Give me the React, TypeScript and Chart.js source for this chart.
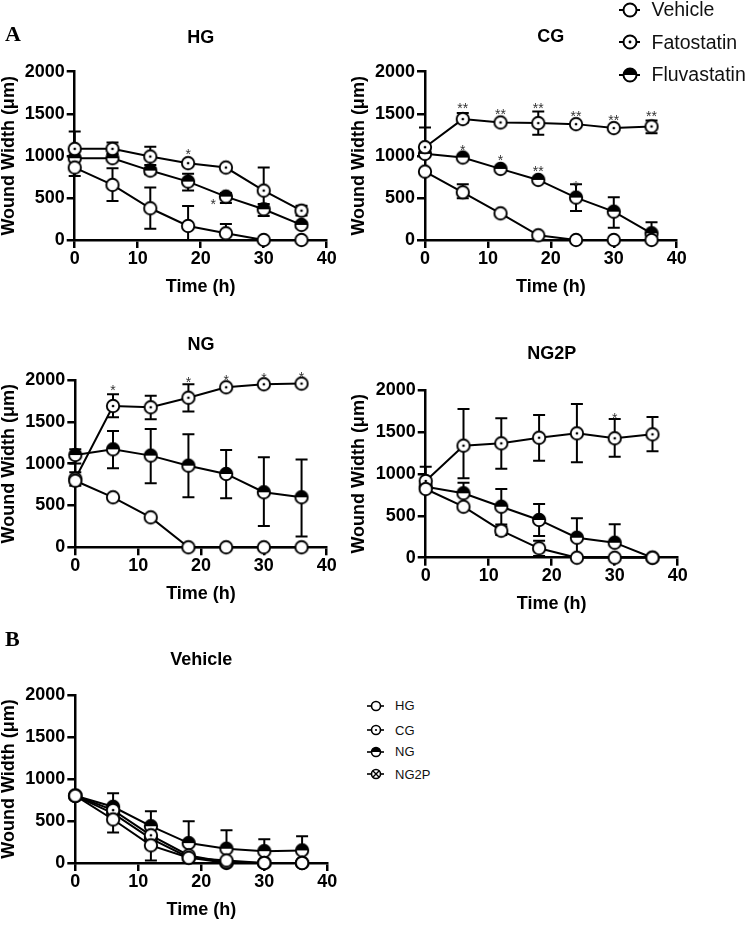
import React, { useEffect, useRef } from 'react';
import { Chart, registerables } from 'chart.js';
Chart.register(...registerables);

// ---------------- data ----------------
const TIME = [0, 6, 12, 18, 24, 30, 36];
const X_TICKS = [0, 10, 20, 30, 40];
const Y_TICKS = [0, 500, 1000, 1500, 2000];

// HG
const HG_VEH = [861, 655, 377, 167, 80, 0, 0];
const HG_VEH_UP = [429, 198, 246, 238, 110, 0, 0];
const HG_VEH_DN = [100, 191, 242, 167, 80, 0, 0];
const HG_FATO = [1083, 1083, 992, 913, 861, 587, 349];
const HG_FATO_UP = [0, 75, 115, 0, 0, 274, 59];
const HG_FATO_DN = [0, 60, 100, 0, 0, 230, 59];
const HG_FLUV = [972, 972, 825, 694, 516, 365, 179];
const HG_FLUV_UP = [0, 0, 30, 92, 44, 64, 30];
const HG_FLUV_DN = [0, 0, 45, 107, 76, 79, 30];
const HG_STAR_X = [18, 22];
const HG_STAR_Y = [1063, 464];
const HG_STAR_T = ['*', '*'];

// CG
const CG_VEH = [813, 567, 317, 56, 0, 0, 0];
const CG_VEH_UP = [0, 96, 0, 0, 0, 0, 0];
const CG_VEH_DN = [0, 71, 0, 0, 0, 0, 0];
const CG_FATO = [1103, 1437, 1397, 1389, 1377, 1330, 1349];
const CG_FATO_UP = [234, 71, 0, 139, 0, 0, 71];
const CG_FATO_DN = [0, 40, 0, 139, 0, 0, 79];
const CG_FLUV = [1024, 980, 845, 714, 504, 337, 80];
const CG_FLUV_UP = [0, 0, 0, 0, 159, 171, 130];
const CG_FLUV_DN = [0, 0, 0, 0, 159, 190, 0];
const CG_STAR_X = [6, 12, 18, 24, 30, 36, 6, 12, 18, 24];
const CG_STAR_Y = [1604, 1533, 1604, 1513, 1458, 1513, 1109, 990, 852, 674];
const CG_STAR_T = ['**', '**', '**', '**', '**', '**', '*', '*', '**', '*'];

// NG
const NG_VEH = [796, 598, 358, 0, 0, 0, 0];
const NG_VEH_UP = [101, 0, 0, 0, 0, 0, 0];
const NG_VEH_DN = [60, 0, 0, 0, 0, 0, 0];
const NG_FATO = [820, 1689, 1674, 1788, 1913, 1949, 1957];
const NG_FATO_UP = [0, 140, 139, 161, 0, 0, 0];
const NG_FATO_DN = [0, 135, 144, 166, 0, 0, 0];
const NG_FLUV = [1103, 1171, 1096, 976, 877, 658, 598];
const NG_FLUV_UP = [70, 219, 318, 375, 286, 418, 452];
const NG_FLUV_DN = [100, 227, 331, 378, 291, 402, 469];
const NG_STAR_X = [6, 18, 24, 30, 36];
const NG_STAR_Y = [1920, 2008, 2040, 2060, 2072];
const NG_STAR_T = ['*', '*', '*', '*', '*'];

// NG2P
const P_VEH = [819, 608, 322, 112, 0, 0, 0];
const P_VEH_UP = [0, 0, 51, 91, 0, 0, 0];
const P_VEH_DN = [0, 0, 51, 91, 0, 0, 0];
const P_FATO = [915, 1336, 1364, 1431, 1483, 1424, 1471];
const P_FATO_UP = [170, 437, 298, 270, 350, 230, 206];
const P_FATO_DN = [0, 389, 303, 274, 346, 220, 202];
const P_FLUV = [847, 768, 608, 450, 238, 179, 0];
const P_FLUV_UP = [0, 126, 211, 190, 232, 219, 0];
const P_FLUV_DN = [0, 0, 211, 190, 232, 0, 0];
const P_STAR_X = [30];
const P_STAR_Y = [1702];
const P_STAR_T = ['*'];

// Vehicle (panel B)
const B_HG = [801, 518, 210, 62, 30, 0, 0];
const B_HG_UP = [0, 0, 0, 0, 0, 0, 0];
const B_HG_DN = [0, 156, 180, 0, 0, 0, 0];
const B_CG = [800, 630, 330, 90, 10, 0, 0];
const B_CG_UP = [0, 0, 0, 0, 0, 0, 0];
const B_CG_DN = [0, 0, 0, 0, 0, 0, 0];
const B_NG = [800, 669, 438, 237, 170, 141, 150];
const B_NG_UP = [0, 161, 179, 261, 220, 141, 168];
const B_NG_DN = [0, 0, 0, 0, 0, 0, 0];
const B_NG2P = [800, 590, 290, 66, 0, 0, 0];
const B_NG2P_UP = [0, 0, 0, 0, 0, 0, 0];
const B_NG2P_DN = [0, 0, 0, 0, 0, 0, 0];

const TREAT_LABELS = ['Vehicle', 'Fatostatin', 'Fluvastatin'];
const GROUP_LABELS = ['HG', 'CG', 'NG', 'NG2P'];

// ---------------- style ----------------
const FONT = "'Liberation Sans', Arial, Helvetica, sans-serif";
const FS = 18;
const LH = FS * 1.2;
const MARK_R = 6.2;
const MARK_LW = 1.9;

type Kind = 'open' | 'dot' | 'half' | 'cross';

function makeMarker(kind: Kind, r: number, lw: number): HTMLCanvasElement {
  const size = 2 * Math.ceil(r + lw / 2 + 1);
  const c = document.createElement('canvas');
  c.width = size;
  c.height = size;
  const g = c.getContext('2d')!;
  const m = size / 2;
  g.beginPath();
  g.arc(m, m, r, 0, Math.PI * 2);
  g.fillStyle = '#fff';
  g.fill();
  g.fillStyle = '#000';
  g.strokeStyle = '#000';
  if (kind === 'half') {
    g.beginPath();
    g.arc(m, m, r, Math.PI, Math.PI * 2);
    g.closePath();
    g.fill();
  }
  if (kind === 'dot') {
    g.beginPath();
    g.arc(m, m, Math.max(1.1, r * 0.22), 0, Math.PI * 2);
    g.fill();
  }
  if (kind === 'cross') {
    const d = r * 0.72;
    g.lineWidth = lw * 0.85;
    g.beginPath();
    g.moveTo(m - d, m - d);
    g.lineTo(m + d, m + d);
    g.moveTo(m + d, m - d);
    g.lineTo(m - d, m + d);
    g.stroke();
  }
  g.lineWidth = lw;
  g.beginPath();
  g.arc(m, m, r, 0, Math.PI * 2);
  g.stroke();
  return c;
}

interface Ser { label: string; mean: number[]; up: number[]; dn: number[]; kind: Kind }
interface Box { L: number; R: number; T: number; B: number; titleY: number; xTitleY: number; yTitleX: number }
interface Panel { title: string; series: Ser[]; starX: number[]; starY: number[]; starT: string[]; box: Box }

const KINDS3: Kind[] = ['open', 'dot', 'half'];
const KINDS4: Kind[] = ['open', 'dot', 'half', 'cross'];

function treat(means: number[][], ups: number[][], dns: number[][]): Ser[] {
  return means.map((m, i) => ({ label: TREAT_LABELS[i], mean: m, up: ups[i], dn: dns[i], kind: KINDS3[i] }));
}

const PANELS: Panel[] = [
  {
    title: 'HG',
    series: treat([HG_VEH, HG_FATO, HG_FLUV], [HG_VEH_UP, HG_FATO_UP, HG_FLUV_UP], [HG_VEH_DN, HG_FATO_DN, HG_FLUV_DN]),
    starX: HG_STAR_X, starY: HG_STAR_Y, starT: HG_STAR_T,
    box: { L: 74.7, R: 326.7, T: 71.7, B: 240, titleY: 38.3, xTitleY: 287, yTitleX: 9.2 },
  },
  {
    title: 'CG',
    series: treat([CG_VEH, CG_FATO, CG_FLUV], [CG_VEH_UP, CG_FATO_UP, CG_FLUV_UP], [CG_VEH_DN, CG_FATO_DN, CG_FLUV_DN]),
    starX: CG_STAR_X, starY: CG_STAR_Y, starT: CG_STAR_T,
    box: { L: 425, R: 676.7, T: 71.7, B: 240, titleY: 37.5, xTitleY: 287, yTitleX: 359 },
  },
  {
    title: 'NG',
    series: treat([NG_VEH, NG_FATO, NG_FLUV], [NG_VEH_UP, NG_FATO_UP, NG_FLUV_UP], [NG_VEH_DN, NG_FATO_DN, NG_FLUV_DN]),
    starX: NG_STAR_X, starY: NG_STAR_Y, starT: NG_STAR_T,
    box: { L: 75.3, R: 326.7, T: 380, B: 547.3, titleY: 345.5, xTitleY: 594, yTitleX: 9.2 },
  },
  {
    title: 'NG2P',
    series: treat([P_VEH, P_FATO, P_FLUV], [P_VEH_UP, P_FATO_UP, P_FLUV_UP], [P_VEH_DN, P_FATO_DN, P_FLUV_DN]),
    starX: P_STAR_X, starY: P_STAR_Y, starT: P_STAR_T,
    box: { L: 425.7, R: 677.7, T: 390, B: 557.7, titleY: 354.5, xTitleY: 604.5, yTitleX: 359.5 },
  },
  {
    title: 'Vehicle',
    series: [B_HG, B_CG, B_NG, B_NG2P].map((m, i) => ({
      label: GROUP_LABELS[i], mean: m,
      up: [B_HG_UP, B_CG_UP, B_NG_UP, B_NG2P_UP][i],
      dn: [B_HG_DN, B_CG_DN, B_NG_DN, B_NG2P_DN][i],
      kind: KINDS4[i],
    })),
    starX: [], starY: [], starT: [],
    box: { L: 75.3, R: 327.3, T: 695, B: 863, titleY: 660, xTitleY: 910, yTitleX: 9.2 },
  },
];

function geom(b: Box) {
  const cx = Math.round(b.L - 85);
  const cy = Math.round(b.T - 62);
  const padL = b.yTitleX - LH / 2 - cx;
  const yW = b.L - cx - padL;
  const cw = Math.ceil(b.R - cx + 22);
  const padR = cx + cw - b.R;
  const scaleBottom = b.xTitleY + LH / 2;
  const ch = Math.ceil(scaleBottom + 4 - cy);
  const padB = cy + ch - scaleBottom;
  const xH = scaleBottom - b.B;
  const tPadTop = b.titleY - cy - LH / 2;
  const tPadBottom = b.T - cy - tPadTop - LH;
  return { cx, cy, cw, ch, padL, padR, padB, yW, xH, tPadTop, tPadBottom };
}

const errPlugin = {
  id: 'errBars',
  beforeDatasetsDraw(chart: any) {
    const { ctx } = chart;
    const xs = chart.scales.x;
    const ys = chart.scales.y;
    ctx.save();
    ctx.strokeStyle = '#000';
    ctx.lineWidth = 2;
    chart.data.datasets.forEach((ds: any) => {
      ds.data.forEach((pt: any, j: number) => {
        const px = xs.getPixelForValue(pt.x);
        const py = ys.getPixelForValue(pt.y);
        const draw = (d: number) => {
          if (!d) return;
          const ey = ys.getPixelForValue(pt.y + d);
          ctx.beginPath();
          ctx.moveTo(px, py);
          ctx.lineTo(px, ey);
          ctx.moveTo(px - 6, ey);
          ctx.lineTo(px + 6, ey);
          ctx.stroke();
        };
        draw(ds.errUp[j]);
        draw(-ds.errDn[j]);
      });
    });
    ctx.restore();
  },
};

function starPlugin(p: Panel) {
  return {
    id: 'stars',
    afterDatasetsDraw(chart: any) {
      const { ctx } = chart;
      const xs = chart.scales.x;
      const ys = chart.scales.y;
      ctx.save();
      ctx.font = `14px ${FONT}`;
      ctx.fillStyle = '#333';
      ctx.textAlign = 'center';
      ctx.textBaseline = 'alphabetic';
      p.starX.forEach((sx, i) => {
        ctx.fillText(p.starT[i], xs.getPixelForValue(sx), ys.getPixelForValue(p.starY[i]) + 8);
      });
      ctx.restore();
    },
  };
}

function axisCommon() {
  return {
    type: 'linear' as const,
    grid: {
      display: true,
      drawOnChartArea: false,
      drawTicks: true,
      tickLength: 8,
      tickWidth: 2.5,
      tickColor: '#000',
      color: '#000',
      lineWidth: 2.5,
    },
    border: { display: true, color: '#000', width: 2.5 },
  };
}

function buildConfig(p: Panel): any {
  const g = geom(p.box);
  const font = { family: FONT, size: FS, weight: 'bold' as const };
  return {
    type: 'line',
    data: {
      datasets: p.series.map((s) => ({
        label: s.label,
        data: TIME.map((t, i) => ({ x: t, y: s.mean[i] })),
        errUp: s.up,
        errDn: s.dn,
        borderColor: '#000',
        borderWidth: 2,
        pointStyle: makeMarker(s.kind, MARK_R, MARK_LW),
        pointRadius: 7,
        fill: false,
        tension: 0,
        clip: false,
      })),
    },
    options: {
      responsive: false,
      animation: false,
      devicePixelRatio: 1,
      events: [],
      layout: { padding: { left: g.padL, right: g.padR, top: 0, bottom: g.padB } },
      plugins: {
        legend: { display: false },
        tooltip: { enabled: false },
        title: {
          display: true,
          text: p.title,
          fullSize: false,
          color: '#000',
          font,
          padding: { top: g.tPadTop, bottom: g.tPadBottom },
        },
      },
      scales: {
        x: {
          ...axisCommon(),
          position: 'bottom',
          min: 0,
          max: 40,
          afterBuildTicks: (s: any) => { s.ticks = X_TICKS.map((v) => ({ value: v })); },
          ticks: { font, color: '#000', padding: 0, maxRotation: 0, autoSkip: false, callback: (v: any) => String(v) },
          title: { display: true, text: 'Time (h)', color: '#000', font, padding: { top: 0, bottom: 0 } },
          afterFit: (s: any) => { s.height = g.xH; },
        },
        y: {
          ...axisCommon(),
          position: 'left',
          min: 0,
          max: 2000,
          afterBuildTicks: (s: any) => { s.ticks = Y_TICKS.map((v) => ({ value: v })); },
          ticks: { font, color: '#000', padding: 2, autoSkip: false, callback: (v: any) => String(v) },
          title: { display: true, text: 'Wound Width (μm)', color: '#000', font, padding: { top: 0, bottom: 0 } },
          afterFit: (s: any) => { s.width = g.yW; },
        },
      },
    },
    plugins: [errPlugin, starPlugin(p)],
  };
}

function PanelChart({ panel }: { panel: Panel }) {
  const ref = useRef<HTMLCanvasElement>(null);
  const g = geom(panel.box);
  useEffect(() => {
    const chart = new Chart(ref.current as HTMLCanvasElement, buildConfig(panel));
    return () => chart.destroy();
  }, []);
  return (
    <canvas
      ref={ref}
      width={g.cw}
      height={g.ch}
      style={{ position: 'absolute', left: g.cx, top: g.cy, width: g.cw, height: g.ch }}
    />
  );
}

function LegendMark({ kind, x, y, r, lw, len }: { kind: Kind; x: number; y: number; r: number; lw: number; len: number }) {
  const ref = useRef<HTMLCanvasElement>(null);
  const w = Math.ceil(len) + 2;
  const h = 2 * Math.ceil(r + lw + 2);
  useEffect(() => {
    const c = ref.current as HTMLCanvasElement;
    const ctx = c.getContext('2d')!;
    ctx.clearRect(0, 0, w, h);
    ctx.strokeStyle = '#000';
    ctx.lineWidth = lw;
    ctx.beginPath();
    ctx.moveTo(1, h / 2);
    ctx.lineTo(w - 1, h / 2);
    ctx.stroke();
    const m = makeMarker(kind, r, lw);
    ctx.drawImage(m, Math.round(w / 2 - m.width / 2), Math.round(h / 2 - m.height / 2));
  }, []);
  return (
    <canvas ref={ref} width={w} height={h}
      style={{ position: 'absolute', left: Math.round(x - w / 2), top: Math.round(y - h / 2), width: w, height: h }} />
  );
}

const TOP_LEGEND_Y = [10, 42.3, 75];
const BOTTOM_LEGEND_Y = [705.7, 730, 751.5, 774.3];

export default function App() {
  const letter = (left: number, top: number): React.CSSProperties => ({
    position: 'absolute', left, top, fontFamily: "'Liberation Serif', 'Times New Roman', serif",
    fontWeight: 'bold', fontSize: 22, lineHeight: '1', color: '#000',
  });
  const legText = (left: number, centerY: number, size: number): React.CSSProperties => ({
    position: 'absolute', left, top: centerY - 0.488 * size, fontFamily: FONT, fontSize: size,
    lineHeight: '1', color: '#111', whiteSpace: 'nowrap',
  });
  return (
    <div style={{ position: 'absolute', left: 0, top: 0, width: 749, height: 929, background: '#fff', overflow: 'hidden' }}>
      {PANELS.map((p) => <PanelChart key={p.title} panel={p} />)}
      <div style={letter(5, 23)}>A</div>
      <div style={letter(5, 628)}>B</div>
      {TREAT_LABELS.map((t, i) => (
        <React.Fragment key={t}>
          <LegendMark kind={KINDS3[i]} x={629.5} y={TOP_LEGEND_Y[i]} r={6.5} lw={2} len={21} />
          <div style={legText(651.5, TOP_LEGEND_Y[i], 19.5)}>{t}</div>
        </React.Fragment>
      ))}
      {GROUP_LABELS.map((t, i) => (
        <React.Fragment key={t}>
          <LegendMark kind={KINDS4[i]} x={375} y={BOTTOM_LEGEND_Y[i]} r={4.5} lw={1.6} len={17} />
          <div style={legText(395, BOTTOM_LEGEND_Y[i], 13)}>{t}</div>
        </React.Fragment>
      ))}
    </div>
  );
}
